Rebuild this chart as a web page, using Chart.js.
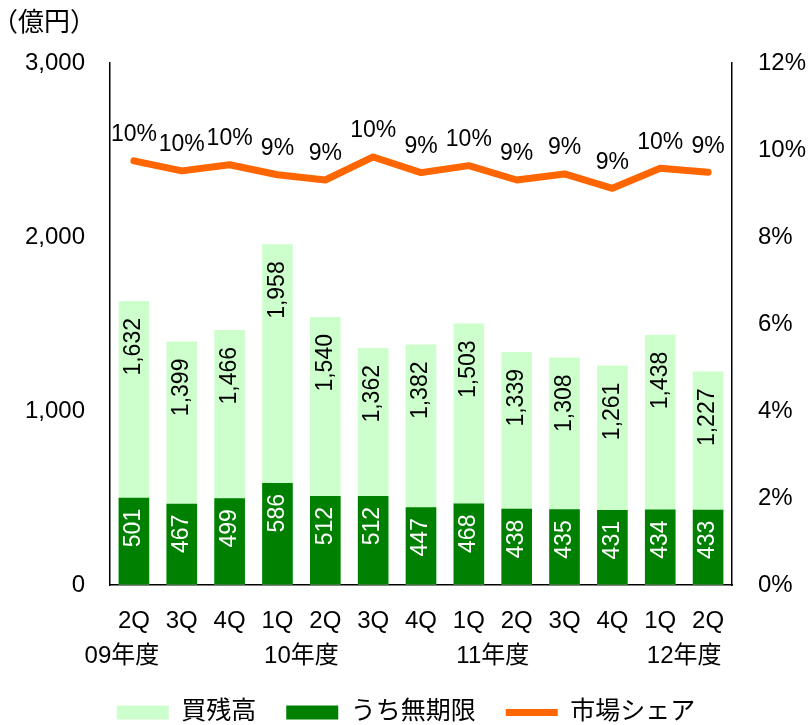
<!DOCTYPE html>
<html>
<head>
<meta charset="utf-8">
<script src="https://cdn.jsdelivr.net/npm/chart.js@4.4.1/dist/chart.umd.min.js"></script>
<style>
html,body{margin:0;padding:0;background:#fff;}
#wrap{position:relative;width:812px;height:725px;}
</style>
</head>
<body>
<div id="wrap"><canvas id="c" width="812" height="725"></canvas></div>
<script>
// ---- data ----
const categories = ['2Q','3Q','4Q','1Q','2Q','3Q','4Q','1Q','2Q','3Q','4Q','1Q','2Q'];
const totalBalance = [1632,1399,1466,1958,1540,1362,1382,1503,1339,1308,1261,1438,1227];
const unlimitedBalance = [501,467,499,586,512,512,447,468,438,435,431,434,433];
const marketShare = [9.75,9.52,9.66,9.43,9.31,9.84,9.48,9.64,9.31,9.45,9.12,9.58,9.49];
const shareLabels = ['10%','10%','10%','9%','9%','10%','9%','10%','9%','9%','9%','10%','9%'];
const yearLabels = ['09年度','10年度','11年度','12年度'];
const yearLabelAt = [-0.25, 3.5, 7.5, 11.5];
const leftTicks = [0,1000,2000,3000];
const rightTicks = [0,2,4,6,8,10,12];
const seriesNames = ['買残高','うち無期限','市場シェア'];
const unitLabel = '（億円）';

const FONT = "'Liberation Sans', Arial, 'Noto Sans CJK JP', sans-serif";
const fmt = v => v.toLocaleString('en-US');

const labelPlugin = {
  id: 'labels',
  afterDatasetsDraw(chart) {
    const ctx = chart.ctx;
    ctx.save();
    ctx.font = '23px ' + FONT;
    const rot = (text, x, y, color) => {
      ctx.save();
      ctx.translate(x, y);
      ctx.rotate(-Math.PI / 2);
      ctx.textAlign = 'right';
      ctx.textBaseline = 'middle';
      ctx.fillStyle = color;
      ctx.fillText(text, 0, 0);
      ctx.restore();
    };
    chart.getDatasetMeta(0).data.forEach((el, i) => rot(fmt(totalBalance[i]), el.x, el.y + 17, '#000'));
    chart.getDatasetMeta(1).data.forEach((el, i) => rot(fmt(unlimitedBalance[i]), el.x, el.y + 11, '#fff'));
    ctx.textAlign = 'center';
    ctx.textBaseline = 'middle';
    ctx.fillStyle = '#000';
    chart.getDatasetMeta(2).data.forEach((el, i) => ctx.fillText(shareLabels[i], el.x, el.y - 26));
    ctx.restore();
  },
  afterDraw(chart) {
    const ctx = chart.ctx;
    const xs = chart.scales.x;
    ctx.save();
    ctx.font = '24px ' + FONT;
    ctx.fillStyle = '#000';
    ctx.textAlign = 'center';
    ctx.textBaseline = 'middle';
    yearLabels.forEach((t, i) => ctx.fillText(t, xs.getPixelForValue(yearLabelAt[i]), 656));
    ctx.font = '26px ' + FONT;
    ctx.textAlign = 'left';
    ctx.fillText(unitLabel, -8, 24);
    ctx.restore();
  }
};

Chart.defaults.font.family = FONT;
Chart.defaults.font.size = 24;
Chart.defaults.color = '#000';

new Chart(document.getElementById('c'), {
  type: 'bar',
  data: {
    labels: categories,
    datasets: [
      {
        label: seriesNames[0],
        data: totalBalance,
        backgroundColor: '#CCFFCC',
        borderWidth: 0,
        grouped: false,
        order: 3,
        yAxisID: 'y',
        barPercentage: 0.64,
        categoryPercentage: 1
      },
      {
        label: seriesNames[1],
        data: unlimitedBalance,
        backgroundColor: '#008000',
        borderWidth: 0,
        grouped: false,
        order: 2,
        yAxisID: 'y',
        barPercentage: 0.64,
        categoryPercentage: 1
      },
      {
        type: 'line',
        label: seriesNames[2],
        data: marketShare,
        borderColor: '#FF6600',
        backgroundColor: '#FF6600',
        borderWidth: 7,
        borderCapStyle: 'round',
        borderJoinStyle: 'round',
        pointRadius: 0,
        tension: 0,
        order: 1,
        yAxisID: 'y2'
      }
    ]
  },
  options: {
    responsive: false,
    animation: false,
    layout: { padding: { top: 63, left: 0, right: 0, bottom: -10 } },
    plugins: {
      tooltip: { enabled: false },
      legend: {
        position: 'bottom',
        labels: {
          usePointStyle: true,
          pointStyleWidth: 52,
          boxHeight: 14,
          padding: 30,
          font: { size: 25 },
          color: '#000',
          generateLabels(chart) {
            const items = Chart.defaults.plugins.legend.labels.generateLabels(chart);
            items.forEach(it => {
              it.pointStyle = it.datasetIndex === 2 ? 'line' : 'rect';
              if (it.datasetIndex !== 2) it.lineWidth = 0;
            });
            return items.sort((a, b) => a.datasetIndex - b.datasetIndex);
          }
        }
      }
    },
    scales: {
      x: {
        offset: true,
        grid: { display: true, drawOnChartArea: false, drawTicks: false },
        border: { display: true, color: '#000', width: 1.5 },
        ticks: { padding: 22, font: { size: 24 }, color: '#000', maxRotation: 0, autoSkip: false },
        afterFit(s) { s.height = 85; }
      },
      y: {
        position: 'left',
        min: 0, max: 3000,
        grid: { display: true, drawOnChartArea: false, drawTicks: false },
        border: { display: true, color: '#000', width: 1.5 },
        afterBuildTicks(s) { s.ticks = leftTicks.map(v => ({ value: v })); },
        ticks: { padding: 25, font: { size: 24 }, color: '#000', callback: v => fmt(v) },
        afterFit(s) { s.width = 110; }
      },
      y2: {
        position: 'right',
        min: 0, max: 12,
        grid: { display: true, drawOnChartArea: false, drawTicks: false },
        border: { display: true, color: '#000', width: 1.5 },
        afterBuildTicks(s) { s.ticks = rightTicks.map(v => ({ value: v })); },
        ticks: { padding: 26, font: { size: 24 }, color: '#000', callback: v => v + '%' },
        afterFit(s) { s.width = 80; }
      }
    }
  },
  plugins: [labelPlugin]
});
</script>
</body>
</html>
